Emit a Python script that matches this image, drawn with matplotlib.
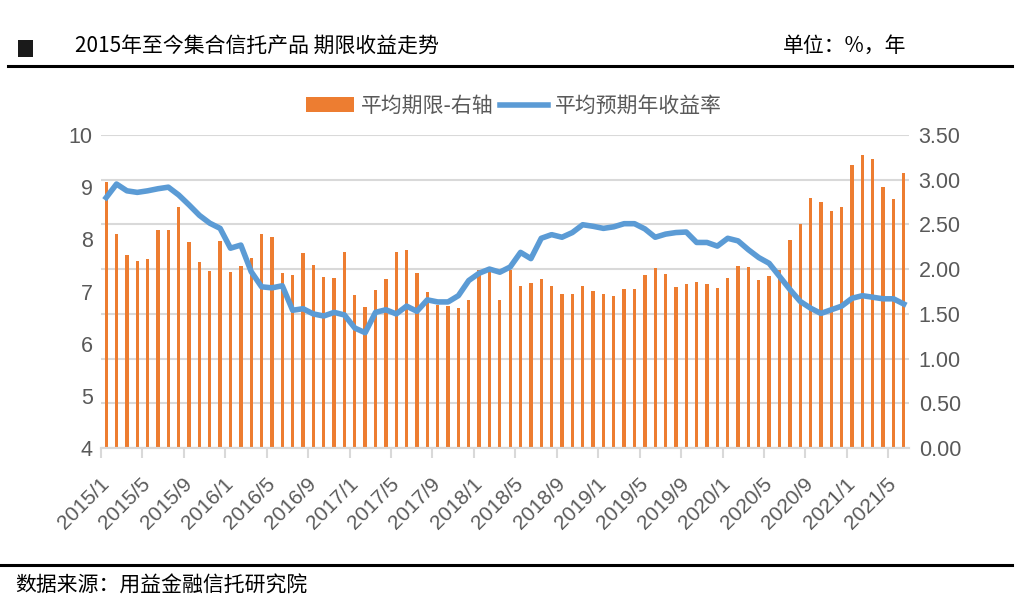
import matplotlib
matplotlib.use("Agg")
import matplotlib.pyplot as plt
from matplotlib.patches import Patch, Rectangle
from matplotlib.lines import Line2D
import numpy as np

plt.rcParams['font.family'] = ['Liberation Sans', 'Noto Sans CJK SC', 'DejaVu Sans']

# ---- data ----
months = [f"{y}/{m}" for y in range(2015, 2022) for m in range(1, 13)][:78]  # 2015/1 .. 2021/6

avg_term = [  # 平均期限 (years, right axis)
    2.97, 2.39, 2.16, 2.09, 2.11, 2.44, 2.44, 2.70, 2.30, 2.08,
    1.98, 2.32, 1.97, 2.03, 2.12, 2.39, 2.36, 1.96, 1.94, 2.18,
    2.05, 1.91, 1.90, 2.19, 1.71, 1.58, 1.77, 1.89, 2.19, 2.21,
    1.96, 1.74, 1.60, 1.59, 1.57, 1.66, 1.99, 1.98, 1.66, 1.99,
    1.81, 1.84, 1.89, 1.81, 1.72, 1.72, 1.81, 1.76, 1.72, 1.70,
    1.78, 1.78, 1.94, 2.01, 1.95, 1.80, 1.83, 1.86, 1.83, 1.79,
    1.90, 2.03, 2.02, 1.88, 1.92, 1.99, 2.33, 2.51, 2.79, 2.75,
    2.65, 2.69, 3.16, 3.28, 3.23, 2.92, 2.78, 3.08,
]

avg_yield = [  # 平均预期年收益率 (%, left axis)
    8.80, 9.06, 8.93, 8.90, 8.93, 8.97, 9.00, 8.85, 8.66, 8.46,
    8.31, 8.21, 7.83, 7.89, 7.38, 7.09, 7.07, 7.11, 6.64, 6.67,
    6.57, 6.53, 6.60, 6.55, 6.30, 6.21, 6.60, 6.65, 6.57, 6.72,
    6.62, 6.84, 6.80, 6.80, 6.92, 7.21, 7.35, 7.43, 7.37, 7.47,
    7.75, 7.63, 8.02, 8.09, 8.04, 8.13, 8.28, 8.25, 8.21, 8.24,
    8.30, 8.30, 8.20, 8.04, 8.10, 8.13, 8.14, 7.94, 7.94, 7.87,
    8.02, 7.97, 7.80, 7.65, 7.54, 7.29, 7.04, 6.81, 6.68, 6.58,
    6.65, 6.72, 6.87, 6.92, 6.89, 6.86, 6.86, 6.76,
]

left_ticks = [4, 5, 6, 7, 8, 9, 10]
right_ticks = [0.0, 0.5, 1.0, 1.5, 2.0, 2.5, 3.0, 3.5]

title = "2015年至今集合信托产品 期限收益走势"
unit = "单位：%，年"
source = "数据来源：用益金融信托研究院"
bar_label = "平均期限-右轴"
line_label = "平均预期年收益率"

ORANGE = "#ED7D31"
BLUE = "#5B9BD5"
GRAY = "#595959"
GRID = "#D9D9D9"

W, H = 1028, 614
fig = plt.figure(figsize=(W / 100, H / 100), dpi=100)
fig.patch.set_facecolor("white")

ax = fig.add_axes([101 / W, 1 - 448 / H, (909 - 101) / W, (448 - 135) / H])
ax2 = ax.twinx()

x = np.arange(len(months))

# bars on right axis (below), line on left axis (above)
ax2.bar(x, avg_term, width=0.32, color=ORANGE, zorder=2)
ax2.set_ylim(0, 3.5)
ax2.set_yticks(right_ticks)
ax2.set_yticklabels([f"{v:.2f}" for v in right_ticks])
ax2.grid(axis='y', color=GRID, linewidth=1.5, zorder=0)
ax2.set_axisbelow(True)

ax.plot(x, avg_yield, color=BLUE, linewidth=4.0, solid_joinstyle='round', zorder=3)
ax.set_ylim(4, 10)
ax.set_yticks(left_ticks)
ax.set_xlim(-0.5, len(months) - 0.5)

ax.set_zorder(ax2.get_zorder() + 1)
ax.patch.set_visible(False)

for a in (ax, ax2):
    for s in ('top', 'left', 'right'):
        a.spines[s].set_visible(False)
    a.spines['bottom'].set_color(GRID)
    a.spines['bottom'].set_linewidth(1.5)

ax.tick_params(axis='y', length=0, pad=6, labelsize=15.5, labelcolor=GRAY)
ax2.tick_params(axis='y', length=0, pad=7, labelsize=15.5, labelcolor=GRAY)

# x ticks: marks at group boundaries, labels at category centres
bounds = np.arange(-0.5, len(months) - 1, 4)
ax.set_xticks(bounds)
ax.set_xticklabels([''] * len(bounds))
ax.tick_params(axis='x', which='major', length=7, width=1.5, color=GRID)
lab_idx = list(range(0, len(months), 4))
ax.set_xticks(lab_idx, minor=True)
ax.set_xticklabels([months[i] for i in lab_idx], minor=True, rotation=45,
                   ha='right', va='center', rotation_mode='anchor')
ax.tick_params(axis='x', which='minor', length=0, pad=24, labelsize=15, labelcolor=GRAY)
ax2.tick_params(axis='x', which='both', length=0, labelbottom=False)

# legend
handles = [Patch(facecolor=ORANGE, edgecolor='none', label=bar_label),
           Line2D([0], [0], color=BLUE, linewidth=4.0, label=line_label)]
fig.legend(handles=handles, loc='center', bbox_to_anchor=(514 / W, 1 - 106 / H),
           ncol=2, frameon=False, labelcolor=GRAY,
           handlelength=2.3, handleheight=0.75, handletextpad=0.35,
           columnspacing=0.3, prop={'family': ['Noto Sans CJK SC'], 'size': 15})

# header
fig.patches.append(Rectangle((18 / W, 1 - 57 / H), 15 / W, 17 / H, transform=fig.transFigure,
                             facecolor="#1a1a1a", edgecolor='none'))
fig.text(75 / W, 1 - 46 / H, title, fontsize=15, color='black', va='center', ha='left',
         family=['Noto Sans CJK SC', 'DejaVu Sans'])
fig.text(783 / W, 1 - 46 / H, unit, fontsize=15, color='black', va='center', ha='left',
         family=['Noto Sans CJK SC', 'DejaVu Sans'])
fig.add_artist(Line2D([8 / W, 1012 / W], [1 - 66 / H, 1 - 66 / H], transform=fig.transFigure,
                      color='black', linewidth=2.2))

# footer
fig.add_artist(Line2D([0, 1012 / W], [1 - 565 / H, 1 - 565 / H], transform=fig.transFigure,
                      color='black', linewidth=2.2))
fig.text(15 / W, 1 - 586 / H, source, fontsize=15, color='black', va='center', ha='left',
         family=['Noto Sans CJK SC', 'DejaVu Sans'])

fig.savefig("out.png", dpi=100, facecolor='white')
